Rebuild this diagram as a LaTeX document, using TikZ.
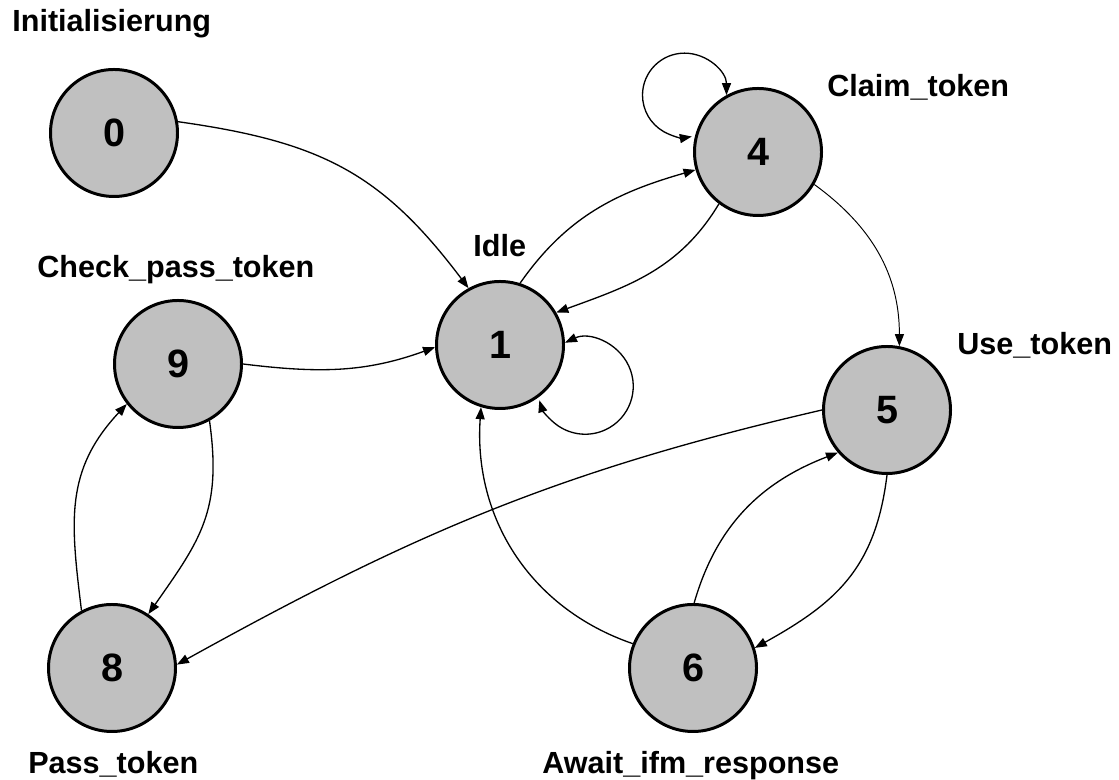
\documentclass[tikz,border=0pt]{standalone}
\usepackage{fontspec}
\setmainfont{Liberation Sans}
\usetikzlibrary{arrows.meta}
\definecolor{stategray}{RGB}{192,192,192}
\tikzset{% 
	statecircle/.style={circle,draw,line width=1.7pt,fill=stategray,minimum size=2.54cm,inner sep=0pt,font=\fontsize{22.5}{26}\selectfont\bfseries},
	statename/.style={anchor=base west,inner sep=0pt,font=\fontsize{17.4}{20}\selectfont\bfseries},
	trans/.style={line width=0.75pt,-{Triangle[length=0.24cm,width=0.18cm]}},
	selfloop/.style={line width=0.75pt,{Triangle[length=0.24cm,width=0.18cm]}-{Triangle[length=0.24cm,width=0.18cm]}}
}

\begin{document}
\begin{tikzpicture}[scale=1]
		\useasboundingbox (0,0) rectangle (22.38,15.6);

		% states
		\node [statecircle] (s0) at (2.28,12.94) {0};
		\node [statecircle] (s1) at (10.00,8.70) {1};
		\node [statecircle] (s4) at (15.16,12.56) {4};
		\node [statecircle] (s5) at (17.74,7.40) {5};
		\node [statecircle] (s6) at (13.86,2.24) {6};
		\node [statecircle] (s8) at (2.24,2.24) {8};
		\node [statecircle] (s9) at (3.56,8.32) {9};

		% state names
		\node [statename] (n0) at (0.24,14.96) {Initialisierung};
		\node [statename] (n1) at (9.46,10.46) {Idle};
		\node [statename] (n4) at (16.54,13.66) {Claim\_token};
		\node [statename] (n5) at (19.14,8.50) {Use\_token};
		\node [statename] (n6) at (10.84,0.12) {Await\_ifm\_response};
		\node [statename] (n8) at (0.56,0.12) {Pass\_token};
		\node [statename] (n9) at (0.74,10.04) {Check\_pass\_token};

		% transitions
		\draw [trans] (s0.10) to[out=-8,in=127,looseness=1.1] (s1.119);
		\draw [trans] (s1.72) to[out=55,in=196] (s4.196);
		\draw [trans] (s4.233) to[out=239,in=20] (s1.30);
		\draw [trans,line width=0.55pt] (s4.-30) to[out=-36,in=90] (s5.79);
		\draw [trans] (s5.180) to[out=193,in=29] (s8.3);
		\draw [trans] (s5.-90) to[out=-97,in=29,looseness=1.1] (s6.18);
		\draw [trans] (s6.89) to[out=74,in=201] (s5.221);
		\draw [trans] (s6.158) to[out=161,in=-94] (s1.253);
		\draw [trans] (s9.0) to[out=-7,in=200] (s1.182);
		\draw [trans] (s9.-61) to[out=-82,in=55,looseness=1.15] (s8.56);
		\draw [trans] (s8.118) to[out=97,in=227,looseness=1.1] (s9.218);

		% loops
		\draw [selfloop] (s4.119) arc[start angle=0,end angle=280,radius=0.84cm];
		\draw [selfloop] (s1.2) arc[start angle=115,end angle=-163,radius=0.96cm];

	\end{tikzpicture}
\end{document}
